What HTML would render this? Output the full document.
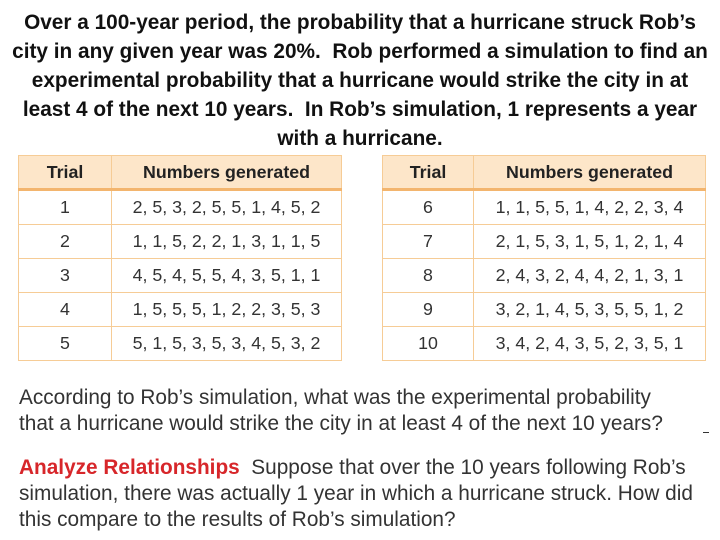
<!DOCTYPE html>
<html><head><meta charset="utf-8"><style>
body{margin:0;width:720px;height:540px;background:#fff;position:relative;overflow:hidden;font-family:"Liberation Sans",sans-serif;}
.title{position:absolute;left:-20px;top:8px;width:760px;text-align:center;font-weight:bold;font-size:20.8px;line-height:29px;color:#111;white-space:nowrap;}
table{position:absolute;border-collapse:collapse;font-size:17.8px;color:#333;}
td,th{border:1.5px solid #f6cc96;text-align:center;padding:0;height:33px;}
th{background:#fde6c9;color:#222;font-weight:bold;height:32px;border-bottom:3px solid #f3b56e;}
.q{position:absolute;left:19px;font-size:20.8px;line-height:26px;color:#333;white-space:nowrap;}
.red{color:#d7262a;font-weight:bold;}
</style></head><body>
<div class="title">Over a 100-year period, the probability that a hurricane struck Rob’s<br>city in any given year was 20%.&nbsp; Rob performed a simulation to find an<br>experimental probability that a hurricane would strike the city in at<br>least 4 of the next 10 years.&nbsp; In Rob’s simulation, 1 represents a year<br>with a hurricane.</div>
<table style="left:18px;top:155px;width:324px">
<tr><th style="width:92px">Trial</th><th>Numbers generated</th></tr>
<tr><td>1</td><td>2, 5, 3, 2, 5, 5, 1, 4, 5, 2</td></tr>
<tr><td>2</td><td>1, 1, 5, 2, 2, 1, 3, 1, 1, 5</td></tr>
<tr><td>3</td><td>4, 5, 4, 5, 5, 4, 3, 5, 1, 1</td></tr>
<tr><td>4</td><td>1, 5, 5, 5, 1, 2, 2, 3, 5, 3</td></tr>
<tr><td>5</td><td>5, 1, 5, 3, 5, 3, 4, 5, 3, 2</td></tr>
</table>
<table style="left:382px;top:155px;width:324px">
<tr><th style="width:90px">Trial</th><th>Numbers generated</th></tr>
<tr><td>6</td><td>1, 1, 5, 5, 1, 4, 2, 2, 3, 4</td></tr>
<tr><td>7</td><td>2, 1, 5, 3, 1, 5, 1, 2, 1, 4</td></tr>
<tr><td>8</td><td>2, 4, 3, 2, 4, 4, 2, 1, 3, 1</td></tr>
<tr><td>9</td><td>3, 2, 1, 4, 5, 3, 5, 5, 1, 2</td></tr>
<tr><td>10</td><td>3, 4, 2, 4, 3, 5, 2, 3, 5, 1</td></tr>
</table>
<div class="q" style="top:385px">According to Rob’s simulation, what was the experimental probability<br>that a hurricane would strike the city in at least 4 of the next 10 years?</div>
<div style="position:absolute;left:703px;top:432px;width:6px;height:1px;background:#333"></div>
<div class="q" style="top:455px"><span class="red">Analyze Relationships</span>&nbsp; Suppose that over the 10 years following Rob’s<br>simulation, there was actually 1 year in which a hurricane struck. How did<br>this compare to the results of Rob’s simulation?</div>
</body></html>
